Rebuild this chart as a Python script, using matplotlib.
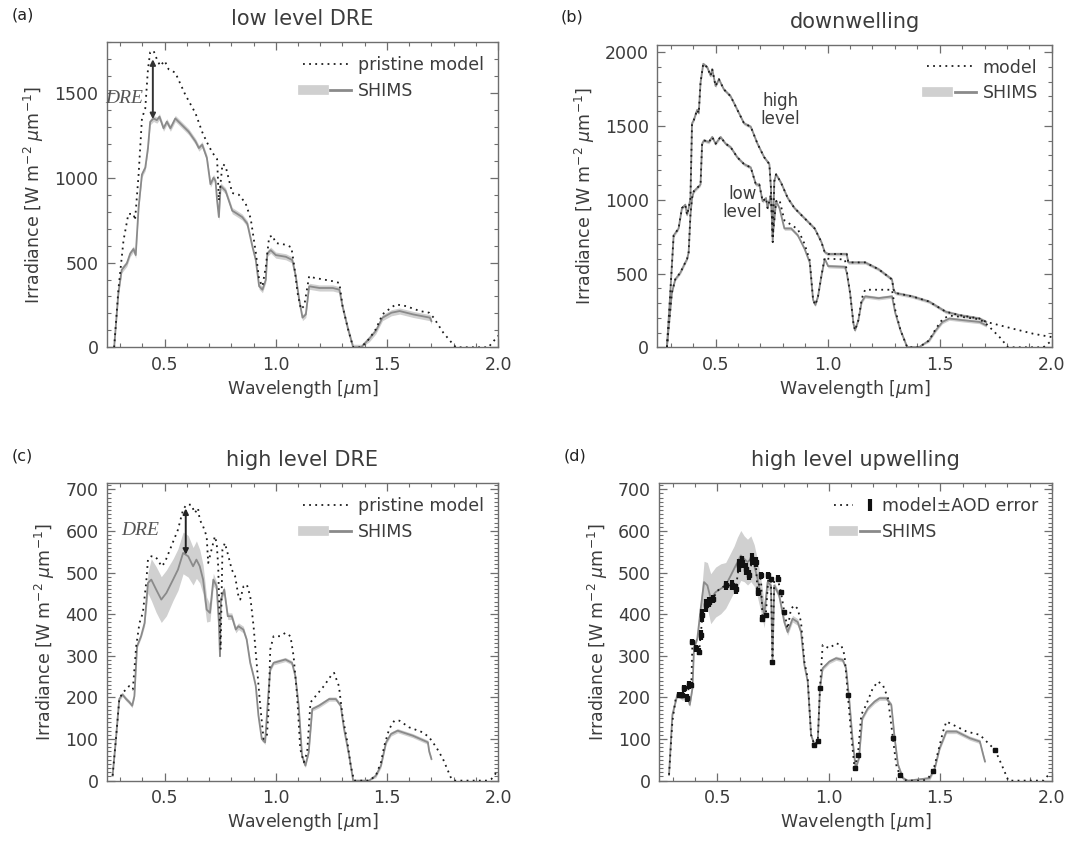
# Spectral irradiance: SHIMS measurements vs. radiative transfer model, four panels
import numpy as np
import matplotlib.pyplot as plt
from matplotlib.lines import Line2D
from matplotlib.legend_handler import HandlerTuple
from matplotlib.ticker import MultipleLocator, FormatStrFormatter

# ---------------- data ----------------
# (a) low level DRE
a_wl_model = [0.273, 0.292, 0.315, 0.337, 0.36, 0.367, 0.383, 0.398, 0.413, 0.425,
              0.435, 0.45, 0.465, 0.48, 0.5, 0.518, 0.548, 0.593, 0.639, 0.669,
              0.69, 0.714, 0.736, 0.744, 0.76, 0.774, 0.804, 0.834, 0.864, 0.887,
              0.91, 0.925, 0.94, 0.955, 0.97, 0.985, 1.0, 1.045, 1.07, 1.083,
              1.098, 1.113, 1.128, 1.15, 1.173, 1.256, 1.286, 1.3, 1.325, 1.348,
              1.384, 1.42, 1.45, 1.48, 1.52, 1.54, 1.586, 1.648, 1.69, 1.71,
              1.753, 1.79, 1.81, 1.956, 2.0]
a_model = [0, 340, 630, 787, 787, 750, 1020, 1350, 1410, 1640,
           1740, 1750, 1700, 1660, 1690, 1640, 1620, 1490, 1380, 1270,
           1210, 1150, 1110, 865, 1080, 1070, 910, 900, 850, 760,
           560, 400, 360, 475, 650, 660, 615, 605, 590, 480,
           320, 225, 245, 420, 410, 390, 380, 245, 107, 0,
           0, 50, 107, 195, 235, 253, 243, 214, 204, 175,
           87, 29, 0, 0, 68]
a_wl_shims = [0.273, 0.292, 0.307, 0.33, 0.345, 0.36, 0.37, 0.383, 0.398, 0.413,
              0.425, 0.435, 0.45, 0.465, 0.477, 0.495, 0.51, 0.526, 0.548, 0.578,
              0.608, 0.639, 0.654, 0.669, 0.69, 0.706, 0.72, 0.729, 0.736, 0.744,
              0.752, 0.774, 0.804, 0.827, 0.849, 0.872, 0.895, 0.91, 0.925, 0.94,
              0.955, 0.962, 0.977, 1.0, 1.045, 1.074, 1.09, 1.105, 1.12, 1.135,
              1.15, 1.196, 1.256, 1.286, 1.3, 1.325, 1.348, 1.384, 1.42, 1.45,
              1.48, 1.52, 1.557, 1.618, 1.693, 1.7]
a_shims = [0, 320, 457, 495, 553, 580, 544, 826, 1020, 1060,
           1175, 1330, 1350, 1340, 1360, 1292, 1331, 1292, 1350, 1311,
           1272, 1214, 1175, 1195, 1117, 962, 1001, 981, 865, 768,
           952, 923, 806, 787, 768, 729, 593, 515, 360, 340,
           398, 554, 573, 544, 534, 515, 418, 282, 175, 194,
           360, 350, 350, 340, 243, 107, 0, 0, 50, 97,
           175, 204, 214, 194, 175, 155]
a_unc = 18
a_dre_wl = 0.447

# (b) downwelling, high and low level
b_wl_high = [0.283, 0.298, 0.313, 0.335, 0.35, 0.365, 0.373, 0.38, 0.388, 0.395,
             0.403, 0.418, 0.425, 0.433, 0.445, 0.463, 0.478, 0.485, 0.5, 0.515,
             0.537, 0.567, 0.597, 0.627, 0.657, 0.687, 0.717, 0.74, 0.747, 0.755,
             0.762, 0.77, 0.792, 0.822, 0.852, 0.882, 0.912, 0.942, 0.972, 0.987,
             1.002, 1.032, 1.085, 1.092, 1.167, 1.197, 1.227, 1.287, 1.294, 1.302,
             1.377, 1.452, 1.527, 1.587, 1.677, 1.707, 1.737, 1.827, 1.917, 2.0]
b_high = [0, 368, 758, 805, 943, 966, 897, 943, 1011, 1517,
          1540, 1609, 1586, 1793, 1920, 1897, 1839, 1885, 1770, 1816,
          1747, 1701, 1609, 1517, 1494, 1379, 1287, 1241, 1080, 713,
          1126, 1172, 1115, 1011, 943, 897, 851, 805, 713, 644,
          632, 632, 632, 575, 575, 552, 529, 460, 391, 368,
          345, 310, 241, 218, 195, 172, 161, 126, 92, 69]
b_wl_low = [0.283, 0.305, 0.32, 0.343, 0.365, 0.373, 0.38, 0.388, 0.395, 0.403,
            0.418, 0.433, 0.44, 0.448, 0.47, 0.485, 0.5, 0.522, 0.545, 0.567,
            0.597, 0.627, 0.657, 0.68, 0.695, 0.71, 0.725, 0.732, 0.747, 0.755,
            0.77, 0.785, 0.807, 0.837, 0.867, 0.897, 0.92, 0.935, 0.945, 0.957,
            0.972, 0.987, 1.002, 1.077, 1.085, 1.1, 1.115, 1.122, 1.137, 1.152,
            1.167, 1.227, 1.287, 1.302, 1.325, 1.355, 1.407, 1.452, 1.482, 1.512,
            1.542, 1.602, 1.677, 1.707, 1.767, 1.805, 1.962, 2.0]
b_low_shims = [0, 368, 460, 506, 575, 598, 644, 897, 1011, 1057,
               1080, 1103, 1379, 1402, 1390, 1425, 1379, 1425, 1379, 1356,
               1287, 1241, 1218, 1103, 1103, 989, 1011, 943, 1034, 750,
               989, 943, 805, 805, 758, 667, 575, 322, 287, 345,
               483, 598, 550, 545, 506, 368, 161, 115, 184, 310,
               345, 333, 345, 230, 115, 0, 0, 46, 115, 172,
               195, 184, 172, 149, 69, 0, 0, 46]
b_low_model = [0, 368, 460, 506, 575, 598, 644, 897, 1011, 1057,
               1080, 1103, 1379, 1402, 1390, 1425, 1379, 1425, 1379, 1356,
               1287, 1241, 1218, 1103, 1103, 989, 1011, 943, 1034, 750,
               989, 1000, 860, 830, 800, 700, 590, 322, 287, 345,
               483, 610, 600, 595, 520, 368, 161, 115, 184, 330,
               390, 390, 390, 250, 115, 0, 0, 46, 125, 190,
               215, 205, 190, 160, 69, 0, 0, 46]
b_unc = 12
shims_end = 1.71

# (c) high level DRE
c_wl_model = [0.266, 0.281, 0.296, 0.31, 0.327, 0.34, 0.357, 0.372, 0.387, 0.402,
              0.417, 0.425, 0.44, 0.455, 0.47, 0.485, 0.5, 0.53, 0.56, 0.583,
              0.598, 0.62, 0.636, 0.65, 0.658, 0.673, 0.689, 0.696, 0.711, 0.726,
              0.734, 0.741, 0.746, 0.752, 0.76, 0.771, 0.787, 0.802, 0.817, 0.832,
              0.84, 0.855, 0.87, 0.885, 0.9, 0.915, 0.93, 0.945, 0.96, 0.967,
              0.975, 0.99, 1.02, 1.043, 1.066, 1.08, 1.096, 1.11, 1.126, 1.141,
              1.156, 1.179, 1.216, 1.247, 1.262, 1.284, 1.3, 1.322, 1.337, 1.352,
              1.42, 1.45, 1.473, 1.488, 1.51, 1.533, 1.556, 1.6, 1.661, 1.69,
              1.722, 1.752, 1.79, 1.805, 1.95, 1.97, 1.993]
c_model = [12, 100, 195, 211, 219, 227, 219, 323, 379, 403,
           475, 531, 539, 539, 531, 515, 523, 563, 603, 651,
           663, 663, 643, 655, 627, 611, 587, 523, 555, 587,
           571, 515, 411, 315, 555, 571, 539, 507, 491, 443,
           435, 467, 471, 443, 371, 275, 180, 100, 108, 164,
           315, 347, 347, 355, 347, 299, 203, 76, 44, 68,
           188, 203, 227, 251, 259, 227, 156, 92, 36, 0,
           0, 12, 44, 84, 124, 144, 144, 128, 116, 104,
           80, 52, 4, 0, 0, 4, 20]
c_wl_shims = [0.266, 0.281, 0.296, 0.31, 0.327, 0.342, 0.354, 0.364, 0.376, 0.394,
              0.41, 0.425, 0.44, 0.462, 0.485, 0.508, 0.538, 0.56, 0.583, 0.606,
              0.628, 0.643, 0.658, 0.673, 0.689, 0.704, 0.719, 0.734, 0.744, 0.749,
              0.753, 0.768, 0.784, 0.802, 0.82, 0.832, 0.854, 0.869, 0.885, 0.9,
              0.91, 0.922, 0.937, 0.952, 0.965, 0.975, 0.99, 1.043, 1.073, 1.088,
              1.103, 1.118, 1.133, 1.148, 1.164, 1.194, 1.24, 1.27, 1.292, 1.307,
              1.33, 1.348, 1.42, 1.45, 1.473, 1.496, 1.518, 1.548, 1.616, 1.684,
              1.69, 1.7]
c_shims = [12, 100, 196, 207, 196, 188, 180, 203, 323, 347,
           379, 475, 483, 459, 435, 451, 483, 507, 547, 539,
           515, 531, 515, 483, 411, 403, 483, 467, 379, 299,
           435, 459, 395, 395, 363, 371, 363, 339, 283, 251,
           227, 156, 100, 92, 196, 267, 283, 291, 283, 251,
           180, 60, 36, 68, 172, 180, 196, 196, 180, 124,
           60, 0, 0, 12, 36, 92, 112, 120, 108, 92,
           70, 52]
c_unc = [5, 5, 5, 5, 5, 5, 5, 5, 5, 5,
         8, 25, 50, 55, 55, 55, 50, 50, 50, 50,
         45, 45, 40, 35, 30, 20, 15, 10, 8, 8,
         8, 8, 8, 8, 8, 8, 8, 5, 5, 5,
         5, 5, 5, 5, 5, 5, 5, 5, 5, 5,
         5, 5, 5, 5, 5, 5, 5, 5, 5, 5,
         5, 0, 0, 5, 5, 5, 5, 5, 5, 5,
         5, 5]
c_dre_wl = 0.595

# (d) high level upwelling
d_wl_model = [0.283, 0.298, 0.313, 0.328, 0.343, 0.35, 0.365, 0.373, 0.383, 0.388,
              0.403, 0.418, 0.425, 0.433, 0.448, 0.463, 0.478, 0.508, 0.537, 0.567,
              0.582, 0.597, 0.612, 0.627, 0.642, 0.657, 0.672, 0.68, 0.695, 0.702,
              0.717, 0.729, 0.74, 0.747, 0.755, 0.77, 0.785, 0.8, 0.815, 0.83,
              0.845, 0.86, 0.875, 0.89, 0.905, 0.92, 0.935, 0.95, 0.96, 0.972,
              1.002, 1.032, 1.055, 1.07, 1.085, 1.1, 1.115, 1.13, 1.145, 1.167,
              1.197, 1.22, 1.242, 1.265, 1.287, 1.302, 1.317, 1.347, 1.422, 1.445,
              1.467, 1.49, 1.512, 1.527, 1.557, 1.617, 1.647, 1.677, 1.707, 1.745,
              1.775, 1.805, 1.962, 1.992]
d_model = [14, 142, 198, 206, 206, 222, 198, 230, 230, 334,
           318, 310, 350, 397, 421, 429, 437, 461, 469, 469,
           461, 517, 525, 509, 493, 533, 525, 453, 493, 389,
           397, 493, 485, 286, 485, 485, 453, 405, 365, 413,
           421, 413, 381, 286, 246, 110, 86, 94, 222, 326,
           318, 330, 326, 302, 206, 110, 30, 62, 158, 182,
           222, 238, 230, 198, 102, 38, 14, 0, 0, 6,
           22, 70, 118, 142, 134, 118, 114, 110, 94, 74,
           38, 0, 0, 18]
d_err = [0, 0, 0, 8, 8, 8, 10, 10, 8, 6,
         8, 8, 12, 15, 15, 12, 10, 0, 10, 12,
         12, 15, 15, 15, 12, 15, 12, 10, 8, 8,
         5, 8, 5, 3, 0, 8, 5, 5, 0, 0,
         0, 0, 0, 0, 0, 0, 4, 4, 4, 0,
         0, 0, 0, 0, 3, 0, 3, 3, 0, 0,
         0, 0, 0, 0, 3, 0, 3, 0, 0, 0,
         2, 0, 0, 0, 0, 0, 0, 0, 0, 2,
         0, 0, 0, 0]
d_wl_shims = [0.283, 0.298, 0.32, 0.343, 0.365, 0.376, 0.388, 0.395, 0.41, 0.425,
              0.44, 0.455, 0.47, 0.492, 0.515, 0.537, 0.56, 0.575, 0.59, 0.605,
              0.62, 0.635, 0.65, 0.665, 0.68, 0.695, 0.71, 0.725, 0.74, 0.747,
              0.755, 0.777, 0.8, 0.815, 0.837, 0.86, 0.875, 0.89, 0.905, 0.92,
              0.935, 0.95, 0.96, 0.972, 1.002, 1.032, 1.062, 1.077, 1.092, 1.107,
              1.12, 1.135, 1.15, 1.175, 1.205, 1.227, 1.257, 1.28, 1.295, 1.31,
              1.332, 1.355, 1.452, 1.475, 1.497, 1.527, 1.572, 1.632, 1.677, 1.692,
              1.7]
d_shims = [14, 158, 206, 198, 206, 182, 222, 318, 342, 413,
           477, 469, 437, 453, 461, 469, 493, 509, 525, 541,
           533, 525, 533, 517, 485, 445, 397, 477, 469, 290,
           469, 445, 381, 357, 389, 381, 357, 278, 238, 110,
           86, 94, 222, 270, 286, 294, 290, 270, 190, 94,
           30, 54, 150, 174, 190, 198, 198, 182, 102, 38,
           6, 0, 6, 30, 78, 118, 118, 102, 94, 62,
           46]
d_unc = [5, 5, 5, 5, 5, 5, 5, 5, 5, 20,
         50, 55, 60, 60, 60, 55, 55, 55, 60, 60,
         55, 55, 55, 50, 45, 40, 30, 20, 10, 8,
         8, 8, 8, 8, 8, 8, 8, 5, 5, 5,
         5, 5, 5, 5, 5, 5, 5, 5, 5, 5,
         5, 5, 5, 5, 5, 5, 5, 5, 5, 5,
         5, 0, 5, 5, 5, 5, 5, 5, 5, 5,
         5]

# ---------------- style ----------------
TXT = '#3c3c3c'
SPINE = '#6e6e6e'
SHIMS_C = '#8a8a8a'
BAND_C = '#d0d0d0'
MODEL_C = '#1c1c1c'
DOTS = (0, (1, 2.4))

plt.rcParams['font.family'] = 'DejaVu Sans'
plt.rcParams['mathtext.fontset'] = 'dejavusans'

fig = plt.figure(figsize=(10.9, 8.43), dpi=100)
axa = fig.add_axes([0.098, 0.588, 0.359, 0.362])
axb = fig.add_axes([0.603, 0.588, 0.362, 0.359])
axc = fig.add_axes([0.098, 0.074, 0.359, 0.353])
axd = fig.add_axes([0.605, 0.074, 0.360, 0.353])


def style(ax, ymax, ymaj, ymin, title, letter):
    ax.set_xlim(0.24, 2.0)
    ax.set_ylim(0, ymax)
    ax.xaxis.set_major_locator(MultipleLocator(0.5))
    ax.xaxis.set_minor_locator(MultipleLocator(0.1))
    ax.xaxis.set_major_formatter(FormatStrFormatter('%.1f'))
    ax.yaxis.set_major_locator(MultipleLocator(ymaj))
    ax.yaxis.set_minor_locator(MultipleLocator(ymin))
    ax.tick_params(which='both', direction='in', top=True, right=True,
                   colors=SPINE, labelcolor=TXT, labelsize=12.5)
    ax.tick_params(which='major', length=6, width=0.9, pad=6)
    ax.tick_params(which='minor', length=3, width=0.8)
    for s in ax.spines.values():
        s.set_color(SPINE)
        s.set_linewidth(1.0)
    ax.set_xlabel('Wavelength [$\\mu$m]', fontsize=12.5, color=TXT, labelpad=3)
    ax.set_ylabel('Irradiance [W m$^{-2}$ $\\mu$m$^{-1}$]', fontsize=12.5,
                  color=TXT, labelpad=6)
    ax.set_title(title, fontsize=15, color=TXT, pad=12)
    ax.text(-0.215, 1.09, letter, transform=ax.transAxes, fontsize=11.5,
            color='#222222', ha='center', va='center')


def shims_handle():
    return (Line2D([], [], color=BAND_C, lw=7),
            Line2D([], [], color=SHIMS_C, lw=2))


def shims_plot(ax, wl, val, unc):
    wl = np.asarray(wl)
    val = np.asarray(val, dtype=float)
    unc = np.asarray(unc, dtype=float)
    ax.fill_between(wl, np.clip(val - unc, 0, None), val + unc,
                    color=BAND_C, lw=0, zorder=1)
    ax.plot(wl, val, color=SHIMS_C, lw=1.3, zorder=2)


def model_plot(ax, wl, val):
    ax.plot(wl, val, color=MODEL_C, lw=1.3, ls=DOTS, zorder=3)


dotted_handle = Line2D([], [], color=MODEL_C, lw=1.3, ls=DOTS)
leg_kw = dict(loc='upper right', frameon=False, fontsize=12.5, handlelength=2.8,
              handletextpad=0.4, labelspacing=0.45, borderaxespad=0.4,
              labelcolor=TXT, handler_map={tuple: HandlerTuple(ndivide=None)})

# ---------------- (a) ----------------
shims_plot(axa, a_wl_shims, a_shims, a_unc)
model_plot(axa, a_wl_model, a_model)
top = np.interp(a_dre_wl, a_wl_model, a_model)
bot = np.interp(a_dre_wl, a_wl_shims, a_shims)
axa.annotate('', xy=(a_dre_wl, bot), xytext=(a_dre_wl, top),
             arrowprops=dict(arrowstyle='<|-|>', color='#333333', lw=1.4,
                             mutation_scale=8, shrinkA=6, shrinkB=0))
axa.text(0.32, 1470, 'DRE', family='Liberation Serif', style='italic',
         fontsize=14, color='#555555', ha='center', va='center')
style(axa, 1800, 500, 100, 'low level DRE', '(a)')
axa.legend([dotted_handle, shims_handle()], ['pristine model', 'SHIMS'], **leg_kw)

# ---------------- (b) ----------------
b_hi_wl = np.asarray(b_wl_high)
b_hi = np.asarray(b_high)
keep = b_hi_wl <= shims_end
shims_plot(axb, b_hi_wl[keep], b_hi[keep], b_unc)
model_plot(axb, b_hi_wl, b_hi)
b_lo_wl = np.asarray(b_wl_low)
keep = b_lo_wl <= shims_end
shims_plot(axb, b_lo_wl[keep], np.asarray(b_low_shims)[keep], b_unc)
model_plot(axb, b_lo_wl, b_low_model)
axb.text(0.79, 1610, 'high\nlevel', fontsize=12, color=TXT, ha='center',
         va='center', linespacing=1.0)
axb.text(0.62, 980, 'low\nlevel', fontsize=12, color=TXT, ha='center',
         va='center', linespacing=1.0)
style(axb, 2050, 500, 100, 'downwelling', '(b)')
axb.legend([dotted_handle, shims_handle()], ['model', 'SHIMS'], **leg_kw)

# ---------------- (c) ----------------
shims_plot(axc, c_wl_shims, c_shims, c_unc)
model_plot(axc, c_wl_model, c_model)
top = np.interp(c_dre_wl, c_wl_model, c_model)
bot = np.interp(c_dre_wl, c_wl_shims, c_shims)
axc.annotate('', xy=(c_dre_wl, bot), xytext=(c_dre_wl, top),
             arrowprops=dict(arrowstyle='<|-|>', color='#222222', lw=1.4,
                             mutation_scale=8, shrinkA=2, shrinkB=0))
axc.text(0.39, 600, 'DRE', family='Liberation Serif', style='italic',
         fontsize=14, color='#555555', ha='center', va='center')
style(axc, 715, 100, 10, 'high level DRE', '(c)')
axc.legend([dotted_handle, shims_handle()], ['pristine model', 'SHIMS'], **leg_kw)

# ---------------- (d) ----------------
shims_plot(axd, d_wl_shims, d_shims, d_unc)
model_plot(axd, d_wl_model, d_model)
dwl = np.asarray(d_wl_model)
dval = np.asarray(d_model)
derr = np.asarray(d_err)
has = derr > 0
axd.errorbar(dwl[has], dval[has], yerr=derr[has], fmt='s', ms=3.2,
             color='#111111', ecolor='#111111', elinewidth=3, capsize=0, zorder=4)
err_handle = (Line2D([], [], color=MODEL_C, lw=1.3, ls=DOTS),
              Line2D([], [], color='#111111', marker='|', ms=9, mew=3, ls='none'))
leg_d = dict(leg_kw)
leg_d.update(handlelength=2.6, handletextpad=0.15)
axd.legend([err_handle, shims_handle()], ['model\u00b1AOD error', 'SHIMS'], **leg_d)
style(axd, 715, 100, 10, 'high level upwelling', '(d)')

fig.savefig('out.png', dpi=100)
